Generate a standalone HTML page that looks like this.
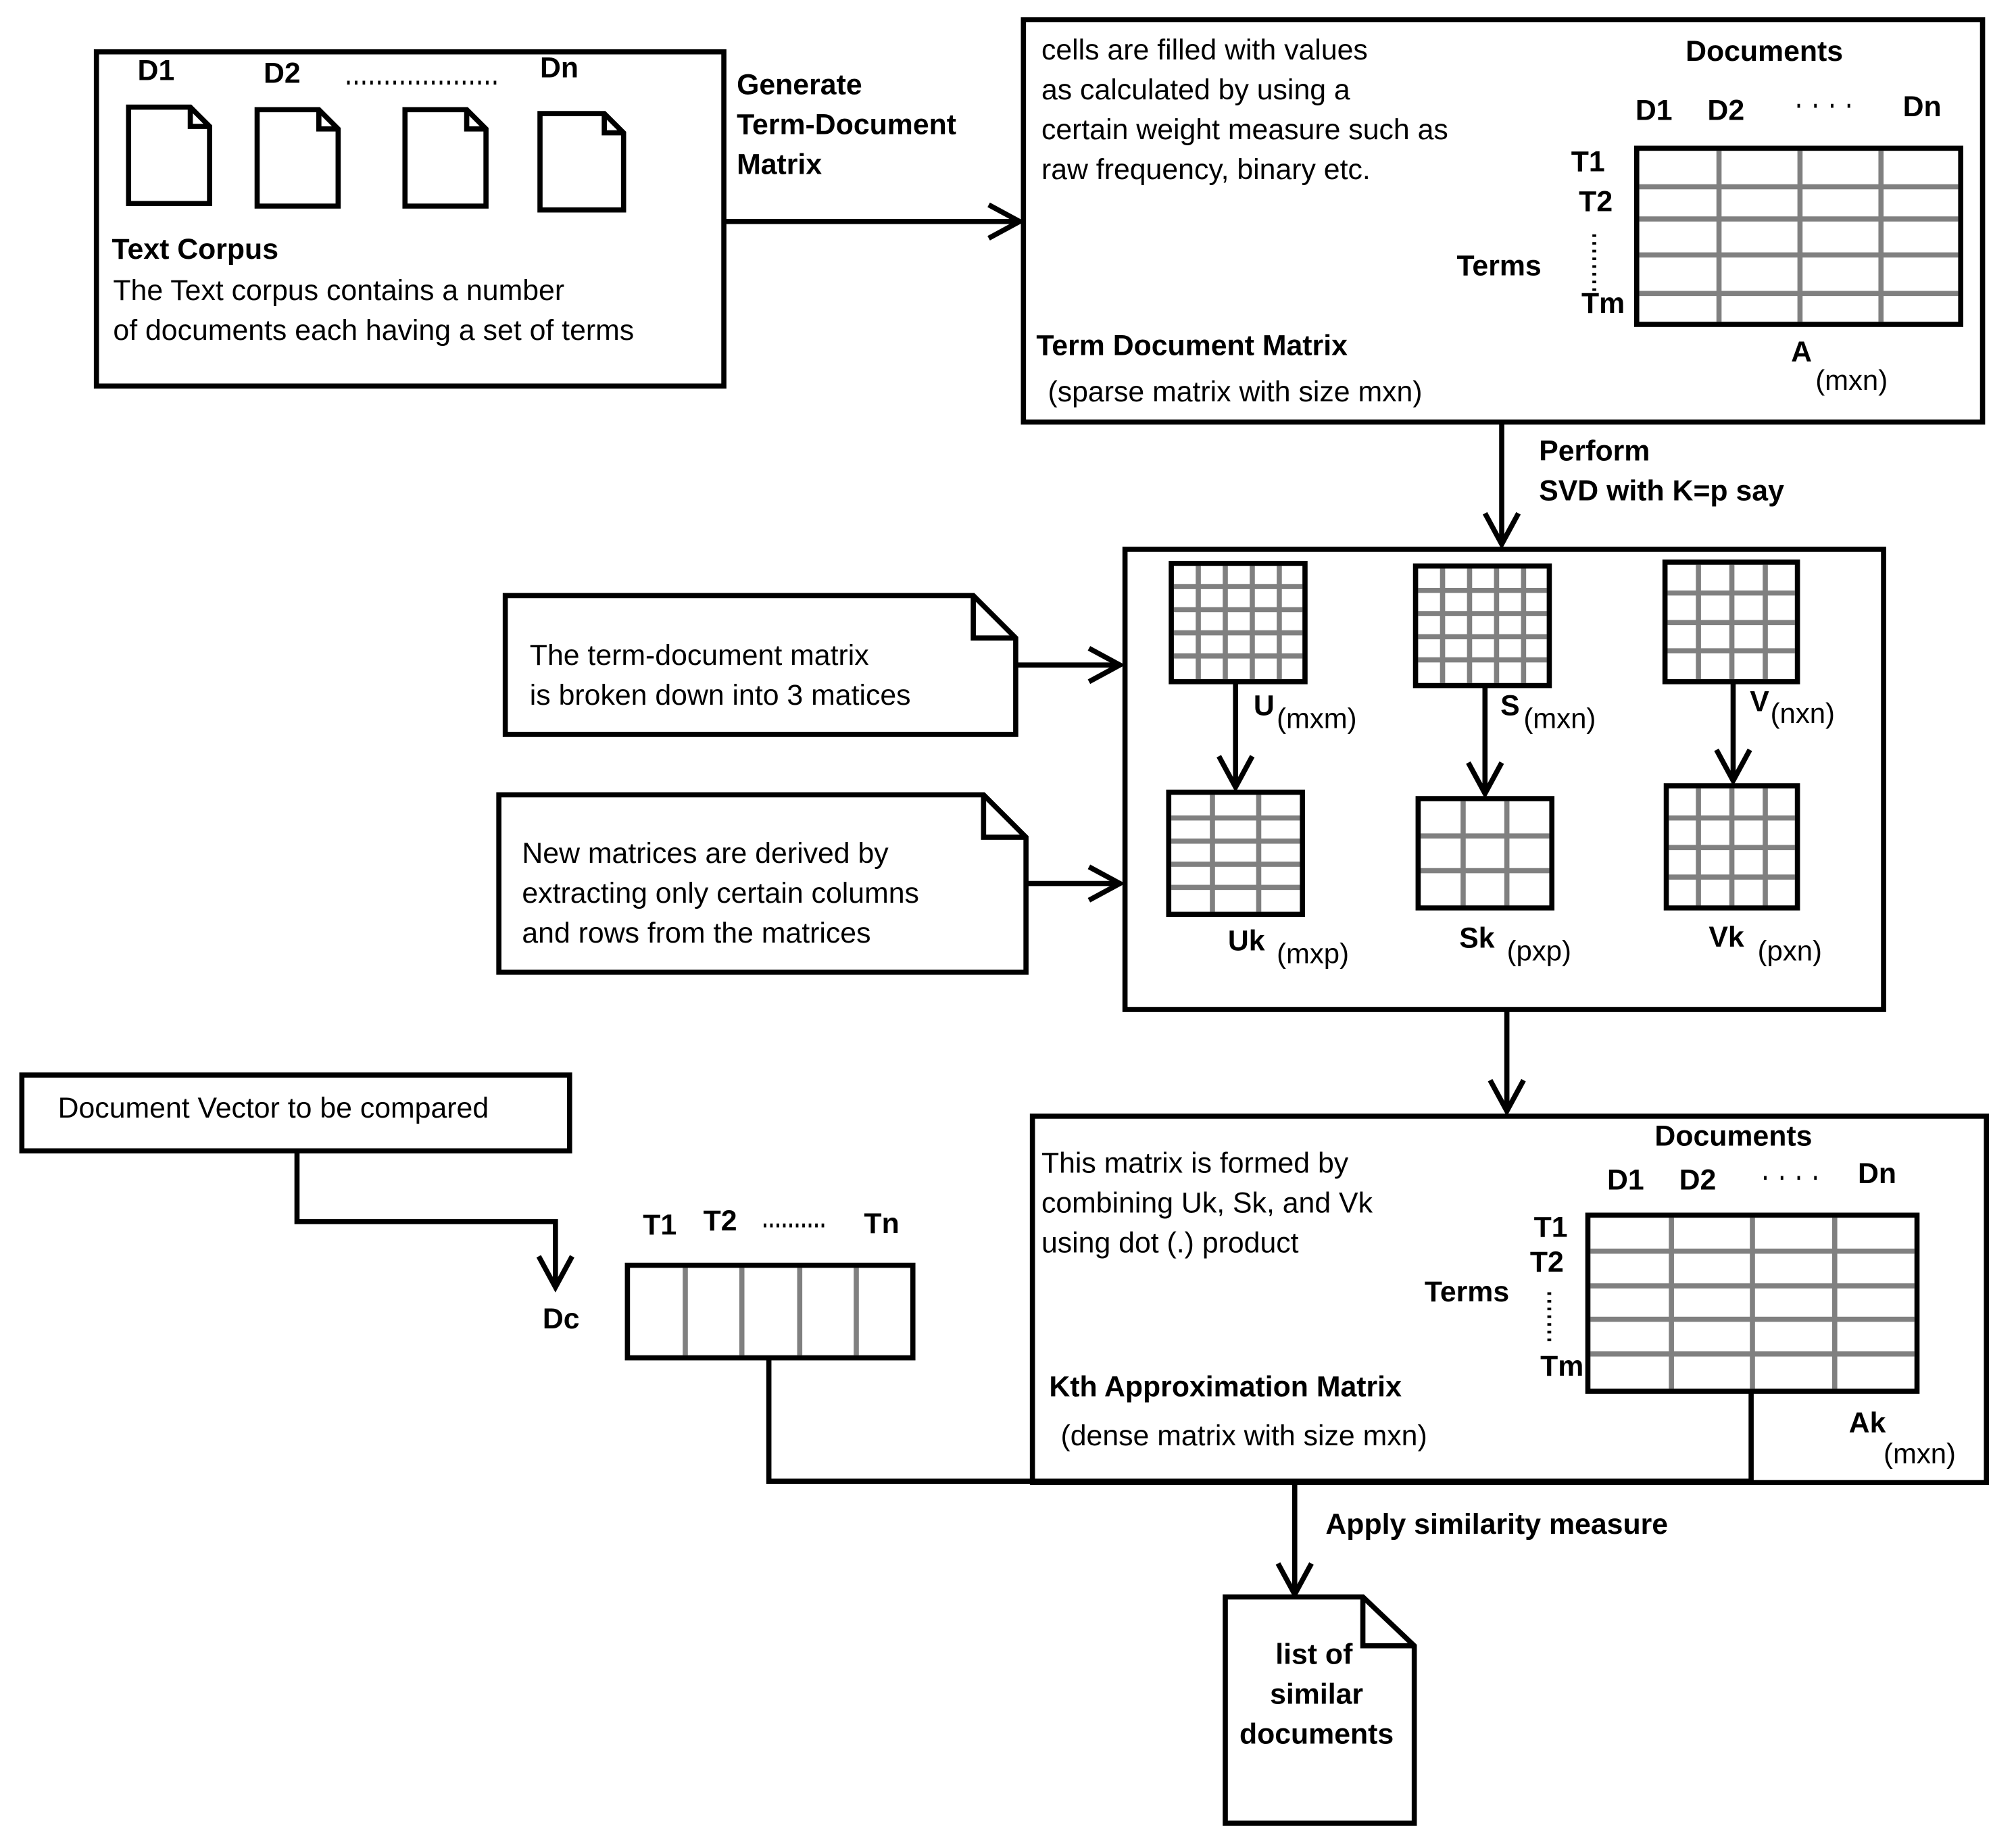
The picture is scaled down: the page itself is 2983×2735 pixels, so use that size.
<!DOCTYPE html>
<html><head><meta charset="utf-8"><style>
html,body{margin:0;padding:0;background:#fff}
svg{display:block}
text{font-family:"Liberation Sans",Arial,sans-serif;font-size:22.5px;fill:#000}
.b{font-weight:bold}
.s{font-size:22px}
</style></head><body>
<svg width="2983" height="2735" viewBox="0 0 1568 1437" xmlns="http://www.w3.org/2000/svg">
<defs>
<marker id="ah2" markerWidth="30" markerHeight="30" refX="26" refY="15" orient="auto" markerUnits="userSpaceOnUse">
<path d="M2,2 L26,15 L2,28" fill="none" stroke="#000" stroke-width="4"/>
</marker>
</defs>
<g fill="none" stroke="#000" stroke-width="4">
<rect x="75" y="40" width="488" height="260"/>
<path d="M100,83 H148 L163,98 V158 H100 Z M148,83 V98 H163"/>
<path d="M200,85 H248 L263,100 V160 H200 Z M248,85 V100 H263"/>
<path d="M315,85 H363 L378,100 V160 H315 Z M363,85 V100 H378"/>
<path d="M420,88 H470 L485,103 V163 H420 Z M470,88 V103 H485"/>
<line x1="563" y1="172" x2="793" y2="172" marker-end="url(#ah2)"/>
<rect x="796" y="15" width="746" height="313"/>
<line x1="1168" y1="328" x2="1168" y2="423" marker-end="url(#ah2)"/>
<rect x="875" y="427" width="590" height="358"/>
<line x1="961" y1="530" x2="961" y2="612" marker-end="url(#ah2)"/>
<line x1="1155" y1="533" x2="1155" y2="617" marker-end="url(#ah2)"/>
<line x1="1348" y1="530" x2="1348" y2="607" marker-end="url(#ah2)"/>
<path d="M393,463 H757 L790,496 V571 H393 Z M757,463 V496 H790"/>
<line x1="790" y1="517" x2="871" y2="517" marker-end="url(#ah2)"/>
<path d="M388,618 H765 L798,651 V756 H388 Z M765,618 V651 H798"/>
<line x1="798" y1="687" x2="871" y2="687" marker-end="url(#ah2)"/>
<line x1="1172" y1="785" x2="1172" y2="864" marker-end="url(#ah2)"/>
<rect x="803" y="868" width="742" height="285"/>
<rect x="17" y="836" width="426" height="59"/>
<polyline points="231,895 231,950 432,950 432,1001" marker-end="url(#ah2)"/>
<polyline points="598,1056 598,1152 1362,1152 1362,1082"/>
<line x1="1007" y1="1152" x2="1007" y2="1240" marker-end="url(#ah2)"/>
<path d="M953,1242 H1060 L1100,1280 V1418 H953 Z M1060,1242 V1280 H1100"/>
</g>
<g stroke="#808080" stroke-width="4" fill="none">
<path d="M1337,117V250 M1400,117V250 M1463,117V250 M1275,145H1523 M1275,170H1523 M1275,198H1523 M1275,228H1523"/>
<path d="M1300,947V1080 M1363,947V1080 M1427,947V1080 M1237,973H1489 M1237,1000H1489 M1237,1026H1489 M1237,1053H1489"/>
<path d="M533,986V1054 M577,986V1054 M622,986V1054 M666,986V1054"/>
<path d="M932,440V528 M953,440V528 M974,440V528 M995,440V528 M913,456H1013 M913,474H1013 M913,492H1013 M913,510H1013"/>
<path d="M1122,442V531 M1143,442V531 M1164,442V531 M1185,442V531 M1103,459H1203 M1103,477H1203 M1103,495H1203 M1103,513H1203"/>
<path d="M1321,439V528 M1347,439V528 M1373,439V528 M1297,461H1396 M1297,484H1396 M1297,506H1396"/>
<path d="M943,618V709 M979,618V709 M911,636H1011 M911,654H1011 M911,672H1011 M911,690H1011"/>
<path d="M1138,623V704 M1172,623V704 M1105,650H1205 M1105,677H1205"/>
<path d="M1321,613V704 M1347,613V704 M1373,613V704 M1298,636H1396 M1298,659H1396 M1298,682H1396"/>
</g>
<g fill="none" stroke="#000" stroke-width="4">
<rect x="1273" y="115" width="252" height="137"/>
<rect x="1235" y="945" width="256" height="137"/>
<rect x="488" y="984" width="222" height="72"/>
<rect x="911" y="438" width="104" height="92"/>
<rect x="1101" y="440" width="104" height="93"/>
<rect x="1295" y="437" width="103" height="93"/>
<rect x="909" y="616" width="104" height="95"/>
<rect x="1103" y="621" width="104" height="85"/>
<rect x="1296" y="611" width="102" height="95"/>
</g>
<g stroke="#000" stroke-width="3" stroke-dasharray="2,4" fill="none">
<line x1="270" y1="64" x2="390" y2="64"/>
<line x1="1240" y1="182" x2="1240" y2="226"/>
<line x1="1205" y1="1005" x2="1205" y2="1046"/>
<line x1="1398" y1="82" x2="1440" y2="82" stroke-dasharray="2,11"/>
<line x1="1372" y1="916" x2="1414" y2="916" stroke-dasharray="2,11"/>
<line x1="594" y1="953" x2="642" y2="953" stroke-dasharray="2,3"/>
</g>
<text class="b" x="107" y="62">D1</text>
<text class="b" x="205" y="64">D2</text>
<text class="b" x="420" y="60">Dn</text>
<text class="b" x="87" y="201">Text Corpus</text>
<text x="88" y="233">The Text corpus contains a number</text>
<text x="88" y="264">of documents each having a set of terms</text>
<text class="b" x="573" y="73">Generate</text>
<text class="b" x="573" y="104">Term-Document</text>
<text class="b" x="573" y="135">Matrix</text>
<text x="810" y="46">cells are filled with values</text>
<text x="810" y="77">as calculated by using a</text>
<text x="810" y="108">certain weight measure such as</text>
<text x="810" y="139">raw frequency, binary etc.</text>
<text class="b" x="1311" y="47">Documents</text>
<text class="b" x="1272" y="93">D1</text>
<text class="b" x="1328" y="93">D2</text>
<text class="b" x="1480" y="90">Dn</text>
<text class="b" x="1222" y="133">T1</text>
<text class="b" x="1228" y="164">T2</text>
<text class="b" x="1230" y="243">Tm</text>
<text class="b" x="1133" y="214">Terms</text>
<text class="b" x="806" y="276">Term Document Matrix</text>
<text x="815" y="312">(sparse matrix with size mxn)</text>
<text class="b" x="1393" y="281">A</text>
<text class="s" x="1412" y="303">(mxn)</text>
<text class="b" x="1197" y="358">Perform</text>
<text class="b" x="1197" y="389">SVD with K=p say</text>
<text x="412" y="517">The term-document matrix</text>
<text x="412" y="548">is broken down into 3 matices</text>
<text x="406" y="671">New matrices are derived by</text>
<text x="406" y="702">extracting only certain columns</text>
<text x="406" y="733">and rows from the matrices</text>
<text class="b" x="975" y="556">U</text><text class="s" x="993" y="566">(mxm)</text>
<text class="b" x="1167" y="556">S</text><text class="s" x="1185" y="566">(mxn)</text>
<text class="b" x="1361" y="553">V</text><text class="s" x="1377" y="562">(nxn)</text>
<text class="b" x="955" y="739">Uk</text><text class="s" x="993" y="749">(mxp)</text>
<text class="b" x="1135" y="737">Sk</text><text class="s" x="1172" y="747">(pxp)</text>
<text class="b" x="1329" y="736">Vk</text><text class="s" x="1367" y="747">(pxn)</text>
<text x="45" y="869">Document Vector to be compared</text>
<text class="b" x="422" y="1033">Dc</text>
<text class="b" x="500" y="960">T1</text>
<text class="b" x="547" y="957">T2</text>
<text class="b" x="672" y="959">Tn</text>
<text x="810" y="912">This matrix is formed by</text>
<text x="810" y="943">combining Uk, Sk, and Vk</text>
<text x="810" y="974">using dot (.) product</text>
<text class="b" x="1287" y="891">Documents</text>
<text class="b" x="1250" y="925">D1</text>
<text class="b" x="1306" y="925">D2</text>
<text class="b" x="1445" y="920">Dn</text>
<text class="b" x="1193" y="962">T1</text>
<text class="b" x="1190" y="989">T2</text>
<text class="b" x="1198" y="1070">Tm</text>
<text class="b" x="1108" y="1012">Terms</text>
<text class="b" x="816" y="1086">Kth Approximation Matrix</text>
<text x="825" y="1124">(dense matrix with size mxn)</text>
<text class="b" x="1438" y="1114">Ak</text>
<text class="s" x="1465" y="1138">(mxn)</text>
<text class="b" x="1031" y="1193">Apply similarity measure</text>
<text class="b" x="1022" y="1294" text-anchor="middle">list of</text>
<text class="b" x="1024" y="1325" text-anchor="middle">similar</text>
<text class="b" x="1024" y="1356" text-anchor="middle">documents</text>
</svg>
</body></html>
